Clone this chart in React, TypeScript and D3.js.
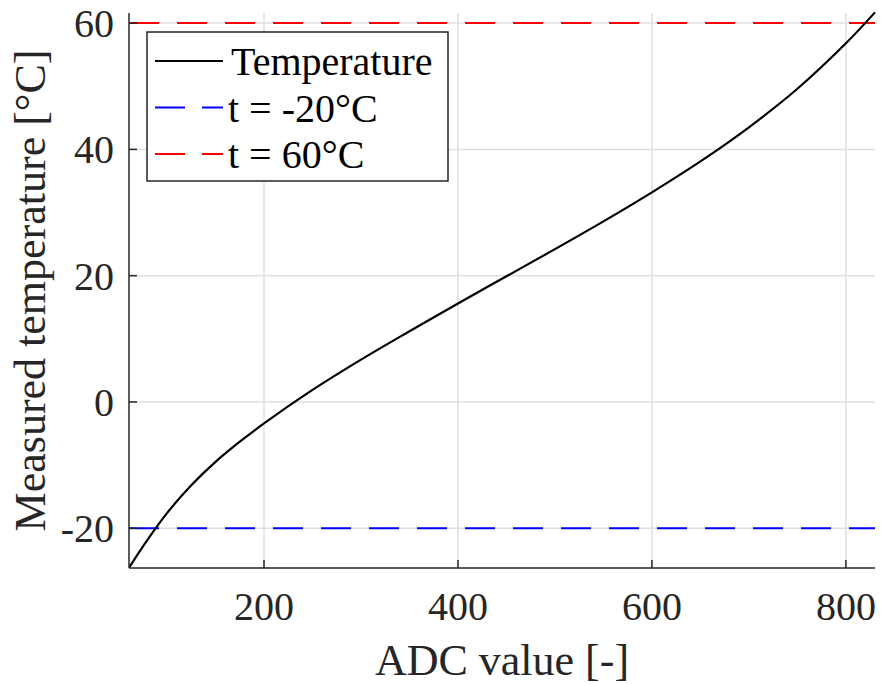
import React from "react";
import * as d3 from "d3";

const adcValues = [61, 80, 100, 125, 150, 175, 200, 250, 300, 350, 400, 450, 500, 550, 600, 650, 700, 750, 800, 830];
const tempValues = [-26.2, -21.8, -17.6, -13.2, -9.5, -6.3, -3.4, 1.9, 6.7, 11.2, 15.6, 19.9, 24.2, 28.6, 33.2, 38.1, 43.5, 49.6, 56.8, 61.7];
const xTicks = [200, 400, 600, 800];
const yTicks = [-20, 0, 20, 40, 60];
const limitLines = [
  { value: -20, label: "t = -20°C", color: "#0000ff" },
  { value: 60, label: "t = 60°C", color: "#ff0000" },
];
const seriesLabel = "Temperature";
const xLabel = "ADC value [-]";
const yLabel = "Measured temperature [°C]";

const W = 881;
const H = 684;
const left = 129;
const right = 875;
const top = 13;
const bottom = 568;
const FONT = "'Liberation Serif', 'Times New Roman', serif";
const AX = "#262626";
const GRID = "#dfdfdf";
const DASH = "30 18";

export default function App() {
  const x = d3.scaleLinear().domain([60.8, 830]).range([left, right]);
  const y = d3.scaleLinear().domain([-26.3, 61.6]).range([bottom, top]);
  const data = adcValues.map((a, i) => [a, tempValues[i]] as [number, number]);
  const line = d3
    .line<[number, number]>()
    .x((d) => x(d[0]))
    .y((d) => y(d[1]))
    .curve(d3.curveCatmullRom.alpha(0.5));

  const legX = 147;
  const legY = 32;
  const legW = 301;
  const legH = 149;
  const rows = [61, 107.5, 154];

  return (
    <svg
      width={W}
      height={H}
      style={{ position: "absolute", left: 0, top: 0, background: "#fff" }}
      fontFamily={FONT}
    >
      <defs>
        <clipPath id="plotClip">
          <rect x={left} y={top - 2} width={right - left + 2} height={bottom - top + 2} />
        </clipPath>
      </defs>
      <rect x={0} y={0} width={W} height={H} fill="#fff" />
      {/* grid */}
      {xTicks.map((t) => (
        <line key={"gx" + t} x1={x(t)} x2={x(t)} y1={top} y2={bottom} stroke={GRID} strokeWidth={1.5} />
      ))}
      {yTicks.map((t) => (
        <line key={"gy" + t} x1={left} x2={right} y1={y(t)} y2={y(t)} stroke={GRID} strokeWidth={1.5} />
      ))}
      {/* limit lines */}
      {limitLines.map((l) => (
        <line
          key={"l" + l.value}
          x1={left}
          x2={right}
          y1={y(l.value)}
          y2={y(l.value)}
          stroke={l.color}
          strokeWidth={2}
          strokeDasharray={DASH}
        />
      ))}
      {/* curve */}
      <path d={line(data) || ""} fill="none" stroke="#000" strokeWidth={2.2} clipPath="url(#plotClip)" />
      {/* axes */}
      <line x1={left} x2={left} y1={top} y2={bottom} stroke={AX} strokeWidth={1.5} />
      <line x1={left} x2={right} y1={bottom} y2={bottom} stroke={AX} strokeWidth={1.5} />
      {xTicks.map((t) => (
        <g key={"tx" + t}>
          <line x1={x(t)} x2={x(t)} y1={bottom} y2={bottom - 8} stroke={AX} strokeWidth={1.5} />
          <text x={x(t)} y={620} textAnchor="middle" fontSize={40} fill={AX}>
            {t}
          </text>
        </g>
      ))}
      {yTicks.map((t) => (
        <g key={"ty" + t}>
          <line x1={left} x2={left + 8} y1={y(t)} y2={y(t)} stroke={AX} strokeWidth={1.5} />
          <text x={114} y={y(t)} dy="0.35em" textAnchor="end" fontSize={40} fill={AX}>
            {t}
          </text>
        </g>
      ))}
      {/* axis labels */}
      <text x={(left + right) / 2} y={675} textAnchor="middle" fontSize={44} fill={AX}>
        {xLabel}
      </text>
      <text
        transform={`translate(45, ${(top + bottom) / 2}) rotate(-90)`}
        textAnchor="middle"
        fontSize={44}
        fill={AX}
      >
        {yLabel}
      </text>
      {/* legend */}
      <rect x={legX} y={legY} width={legW} height={legH} fill="#fff" stroke={AX} strokeWidth={1.5} />
      <line x1={155} x2={223} y1={rows[0]} y2={rows[0]} stroke="#000" strokeWidth={2} />
      <text x={231} y={rows[0]} dy="0.35em" fontSize={40} fill="#000">
        {seriesLabel}
      </text>
      {limitLines.map((l, i) => (
        <g key={"lg" + i}>
          <line
            x1={155}
            x2={223}
            y1={rows[i + 1]}
            y2={rows[i + 1]}
            stroke={l.color}
            strokeWidth={2}
            strokeDasharray="30 17 22"
          />
          <text x={228} y={rows[i + 1]} dy="0.35em" fontSize={40} fill="#000">
            {l.label}
          </text>
        </g>
      ))}
    </svg>
  );
}
